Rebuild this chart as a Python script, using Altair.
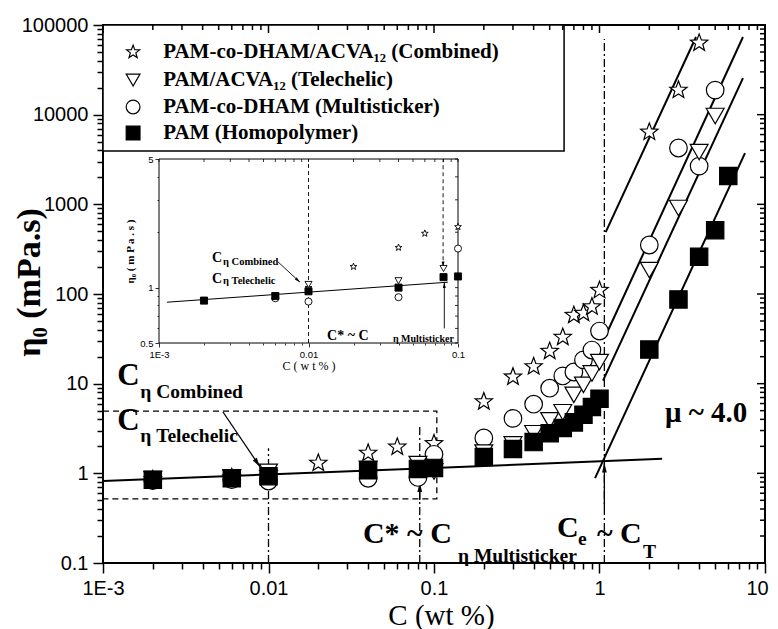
import altair as alt
import pandas as pd

# ---------------- data ----------------
series_names = ["PAM-co-DHAM/ACVA₁₂ (Combined)", "PAM/ACVA₁₂ (Telechelic)",
                "PAM-co-DHAM (Multisticker)", "PAM (Homopolymer)"]

combined_c = [0.002, 0.006, 0.01, 0.02, 0.04, 0.06, 0.1, 0.2, 0.3, 0.4, 0.5, 0.6, 0.7, 0.8, 0.9, 1.0, 2.0, 3.0, 4.0]
combined_eta = [0.85, 0.9, 1.0, 1.3, 1.68, 1.97, 2.15, 6.3, 11.9, 15.5, 23, 33, 58, 61, 72, 110, 6400, 18800, 63000]

telechelic_c = [0.002, 0.006, 0.01, 0.04, 0.08, 0.1, 0.2, 0.3, 0.4, 0.5, 0.6, 0.7, 0.8, 0.9, 1.0, 2.0, 3.0, 4.0, 5.0]
telechelic_eta = [0.86, 0.9, 1.04, 1.12, 1.27, 1.05, 1.7, 2.1, 2.8, 3.9, 4.8, 7.5, 9.7, 13, 17.4, 185, 910, 3830, 9660]

multi_c = [0.002, 0.006, 0.01, 0.04, 0.08, 0.1, 0.2, 0.3, 0.4, 0.5, 0.6, 0.7, 0.8, 0.9, 1.0, 2.0, 3.0, 4.0, 5.0]
multi_eta = [0.83, 0.85, 0.82, 0.88, 0.9, 1.63, 2.48, 4.1, 5.9, 8.9, 12.2, 13.5, 18.4, 23.7, 38.6, 352, 4250, 2670, 18800]

homo_c = [0.002, 0.006, 0.01, 0.04, 0.08, 0.1, 0.2, 0.3, 0.4, 0.5, 0.6, 0.7, 0.8, 0.9, 1.0, 2.0, 3.0, 4.0, 5.0, 6.0]
homo_eta = [0.85, 0.88, 0.93, 1.08, 1.12, 1.15, 1.52, 1.87, 2.23, 2.8, 3.2, 3.7, 4.5, 5.5, 6.8, 24, 87, 260, 515, 2070]

# inset data
in_combined_c = [0.01, 0.02, 0.04, 0.06, 0.1]
in_combined_eta = [1.0, 1.30, 1.65, 1.97, 2.14]
in_telechelic_c = [0.002, 0.006, 0.01, 0.04, 0.08]
in_telechelic_eta = [0.85, 0.9, 1.04, 1.09, 1.27]
in_multi_c = [0.006, 0.01, 0.04, 0.1]
in_multi_eta = [0.875, 0.84, 0.887, 1.63]
in_homo_c = [0.002, 0.006, 0.01, 0.04, 0.08, 0.1]
in_homo_eta = [0.85, 0.90, 0.955, 1.0, 1.14, 1.15]

# fitted lines (endpoints)
fit_x1 = [1.09, 1.11, 1.05, 0.94, 0.001]
fit_y1 = [490, 37, 10.8, 0.885, 0.82]
fit_x2 = [3.83, 7.36, 7.36, 7.57, 2.39]
fit_y2 = [73500, 73450, 25600, 3720, 1.45]

inset_fit = [0.00113, 0.833, 0.0855, 1.07]

# vertical marker lines
vline_x = [0.01, 0.082, 1.07]
vline_y1 = [0.1, 0.1, 0.1]
vline_y2 = [1.9, 3.46, 70000]

# tick labels
x_major = [0.001, 0.01, 0.1, 1, 10]
x_labels = ["1E-3", "0.01", "0.1", "1", "10"]
y_major = [0.1, 1, 10, 100, 1000, 10000, 100000]
y_labels = ["0.1", "1", "10", "100", "1000", "10000", "100000"]
ix_major = [0.001, 0.01, 0.1]
ix_labels = ["1E-3", "0.01", "0.1"]
iy_major = [0.5, 1, 5]
iy_labels = ["0.5", "1", "5"]

# legend placement (in data coordinates of the main panel)
legend_sym_x = 0.00152
legend_lab_x = 0.00231
legend_row_y = [50000, 24300, 12200, 6240]

# ---------------- helpers ----------------
W, H = 662, 538
STAR = ("M0,-1L0.247,-0.34L0.951,-0.309L0.399,0.13L0.588,0.809L0,0.42"
        "L-0.588,0.809L-0.399,0.13L-0.951,-0.309L-0.247,-0.34Z")
ARROW = "M0,0L0.45,1.8L-0.45,1.8Z"


def minors(lo_exp, hi_exp):
    return [k * 10.0 ** e for e in range(lo_exp, hi_exp) for k in range(2, 10)]


def lab_expr(vals, labs):
    s = ""
    for v, l in zip(vals, labs):
        s += f"datum.value == {v!r} ? '{l}' : "
    return s + "''"


def is_major(vals):
    return "indexof([" + ",".join(repr(v) for v in vals) + "], datum.value) >= 0"


x_ticks = x_major + minors(-3, 1)
y_ticks = y_major + minors(-1, 5)
ix_ticks = ix_major + minors(-3, -1)
iy_ticks = [0.5, 0.6, 0.7, 0.8, 0.9, 1, 2, 3, 4, 5]

xs = alt.Scale(type="log", domain=[0.001, 10])
ys = alt.Scale(type="log", domain=[0.1, 100000])
ixs = alt.Scale(type="log", domain=[0.001, 0.1], range=[56, 355])
iys = alt.Scale(type="log", domain=[0.5, 5], range=[318, 134])

x_axis = alt.Axis(values=x_ticks, labelExpr=lab_expr(x_major, x_labels),
                  tickSize={"condition": {"test": is_major(x_major), "value": 10}, "value": 6},
                  labelOffset={"condition": {"test": "datum.value == 10", "value": -8}, "value": 0},
                  tickWidth=1.5, tickColor="black", domain=False, grid=False,
                  labelFont="Liberation Sans", labelFontSize=20, labelColor="black",
                  labelPadding=5, labelOverlap=False, labelFlush=False,
                  title="C (wt %)", titleFont="Liberation Serif", titleFontSize=29,
                  titleFontWeight="normal", titleColor="black", titleX=338, titleY=61,
                  titleAlign="center", titleBaseline="alphabetic")
y_axis = alt.Axis(values=y_ticks, labelExpr=lab_expr(y_major, y_labels),
                  tickSize={"condition": {"test": is_major(y_major), "value": 10}, "value": 6},
                  tickWidth=1.5, tickColor="black", domain=False, grid=False,
                  labelFont="Liberation Sans", labelFontSize=20, labelColor="black",
                  labelPadding=5, labelOverlap=False, labelFlush=False,
                  title="η₀ (mPa.s)", titleFont="Liberation Serif", titleFontSize=34,
                  titleFontWeight="bold", titleColor="black", titleX=-74, titleY=H / 2 - 12,
                  titleAngle=270, titleAlign="center", titleBaseline="middle")
ix_axis = alt.Axis(orient="bottom", offset=-(H - 318), values=ix_ticks,
                   labelExpr=lab_expr(ix_major, ix_labels),
                   tickSize={"condition": {"test": is_major(ix_major), "value": 4}, "value": 2},
                   tickWidth=0.8, tickColor="black", domain=False, grid=False,
                   labelFont="Liberation Sans", labelFontSize=9.5, labelColor="black",
                   labelPadding=2, labelOverlap=False, labelFlush=False,
                   title="C  ( w t  % )", titleFont="Liberation Serif", titleFontSize=12,
                   titleFontWeight="normal", titleColor="black", titlePadding=2)
iy_axis = alt.Axis(orient="left", offset=-56, values=iy_ticks,
                   labelExpr=lab_expr(iy_major, iy_labels),
                   tickSize={"condition": {"test": is_major(iy_major), "value": 4}, "value": 2},
                   tickWidth=0.8, tickColor="black", domain=False, grid=False,
                   labelFont="Liberation Sans", labelFontSize=9.5, labelColor="black",
                   labelPadding=2, labelOverlap=False, labelFlush=False,
                   title="η₀  ( m P a . s )", titleFont="Liberation Serif", titleFontSize=11,
                   titleFontWeight="bold", titleColor="black", titlePadding=4)

shape_scale = alt.Scale(domain=series_names, range=[STAR, "triangle-down", "circle", "square"])
fill_scale = alt.Scale(domain=series_names, range=["white", "white", "white", "black"])
size_scale = alt.Scale(domain=series_names, range=[330, 300, 260, 215])


def X(f="x"):
    return alt.X(f"{f}:Q", scale=xs, axis=x_axis)


def Y(f="y"):
    return alt.Y(f"{f}:Q", scale=ys, axis=y_axis)


def IX(f="x"):
    return alt.X(f"{f}:Q", scale=ixs, axis=ix_axis)


def IY(f="y"):
    return alt.Y(f"{f}:Q", scale=iys, axis=iy_axis)


# ---------------- data frames ----------------
def pts(cs, es, name):
    return [{"x": c, "y": e, "s": name} for c, e in zip(cs, es)]


main_pts = pd.DataFrame(pts(combined_c, combined_eta, series_names[0]) +
                        pts(multi_c, multi_eta, series_names[2]) +
                        pts(telechelic_c, telechelic_eta, series_names[1]) +
                        pts(homo_c, homo_eta, series_names[3]))
inset_pts = pd.DataFrame(pts(in_combined_c, in_combined_eta, series_names[0]) +
                         pts(in_multi_c, in_multi_eta, series_names[2]) +
                         pts(in_telechelic_c, in_telechelic_eta, series_names[1]) +
                         pts(in_homo_c, in_homo_eta, series_names[3]))
legend_df = pd.DataFrame({"s": series_names, "y": legend_row_y,
                          "xs": [legend_sym_x] * 4, "xl": [legend_lab_x] * 4})

fits = pd.DataFrame({"x": fit_x1, "y": fit_y1, "x2": fit_x2, "y2": fit_y2})
vlines = pd.DataFrame({"x": vline_x, "y": vline_y1, "y2": vline_y2})
dash_box = pd.DataFrame([{"x": 0.001, "x2": 0.104, "y": 0.52, "y2": 4.95}])
legend_box = pd.DataFrame([{"x": 0.001, "x2": 0.611, "y": 3940, "y2": 100000}])

arrows = pd.DataFrame([
    {"x": 0.00531, "y": 4.83, "x2": 0.00889, "y2": 1.18, "a": 146},
    {"x": 0.082, "y": 0.505, "x2": 0.082, "y2": 0.79, "a": 0},
    {"x": 1.07, "y": 0.42, "x2": 1.07, "y2": 1.30, "a": 0},
])

ann_main = [
    ("C", 0.00122, 9.66, 31),
    ("η Combined", 0.00168, 6.92, 19.5),
    ("C", 0.00122, 3.04, 31),
    ("η Telechelic", 0.00168, 2.23, 19.5),
    ("C* ~ C", 0.0372, 0.167, 30),
    ("η Multisticker", 0.1396, 0.1026, 19.5),
    ("C", 0.553, 0.195, 30),
    ("e", 0.741, 0.159, 19.5),
    ("~ C", 0.966, 0.167, 30),
    ("T", 1.83, 0.1137, 19.5),
    ("μ ~ 4.0", 2.49, 3.73, 29),
]

inset_frame = pd.DataFrame([{"x": 0.001, "x2": 0.1, "y": 0.5, "y2": 5}])
inset_line = pd.DataFrame([{"x": inset_fit[0], "y": inset_fit[1], "x2": inset_fit[2], "y2": inset_fit[3]}])
inset_dash = pd.DataFrame([{"x": 0.01, "y": 0.5, "y2": 5}, {"x": 0.0795, "y": 1.29, "y2": 5}])
inset_arrows = pd.DataFrame([
    {"x": 0.00625, "y": 1.38, "x2": 0.00877, "y2": 1.07, "a": 132},
    {"x": 0.081, "y": 0.60, "x2": 0.081, "y2": 1.07, "a": 0},
])
inset_heads = pd.DataFrame([
    {"x": 0.00877, "y": 1.07, "a": 132},
    {"x": 0.081, "y": 1.07, "a": 0},
    {"x": 0.0795, "y": 1.29, "a": 180},
])
ann_inset = [
    ("C", 0.00226, 1.377, 14),
    ("η Combined", 0.00268, 1.33, 10.5),
    ("C", 0.00226, 1.06, 14),
    ("η Telechelic", 0.00268, 1.045, 10.5),
    ("C*  ~  C", 0.0133, 0.519, 14),
    ("η Multisticker", 0.0367, 0.506, 10),
]


def text_layers(ann, xf, yf):
    out = []
    for fs in sorted(set(a[3] for a in ann)):
        df = pd.DataFrame([{"t": a[0], "x": a[1], "y": a[2]} for a in ann if a[3] == fs])
        out.append(alt.Chart(df).mark_text(align="left", baseline="alphabetic",
                                           font="Liberation Serif", fontWeight="bold",
                                           fontSize=fs, color="black")
                   .encode(x=xf(), y=yf(), text="t:N"))
    return out


# ---------------- main layers ----------------
main_layers = [
    alt.Chart(legend_box).mark_rect(fill="white", stroke="black", strokeWidth=1.5)
    .encode(x=X(), x2="x2", y=Y(), y2="y2"),
    alt.Chart(legend_df).mark_point(filled=True, stroke="black", strokeWidth=1.2, opacity=1, size=190)
    .encode(x=X("xs"), y=Y(),
            shape=alt.Shape("s:N", scale=shape_scale, legend=None),
            fill=alt.Fill("s:N", scale=fill_scale, legend=None)),
    alt.Chart(legend_df).mark_text(align="left", baseline="middle", font="Liberation Serif",
                                   fontWeight="bold", fontSize=21, color="black")
    .encode(x=X("xl"), y=Y(), text="s:N"),
    alt.Chart(dash_box).mark_rect(fillOpacity=0, stroke="black", strokeWidth=1.3, strokeDash=[6, 4])
    .encode(x=X(), x2="x2", y=Y(), y2="y2"),
    alt.Chart(vlines).mark_rule(color="black", strokeWidth=1.3, strokeDash=[8, 3, 2, 3])
    .encode(x=X(), y=Y(), y2="y2"),
    alt.Chart(fits).mark_rule(color="black", strokeWidth=2)
    .encode(x=X(), y=Y(), x2="x2", y2="y2"),
    alt.Chart(arrows).mark_rule(color="black", strokeWidth=1.3)
    .encode(x=X(), y=Y(), x2="x2", y2="y2"),
    alt.Chart(arrows).mark_point(shape=ARROW, size=110, filled=True, color="black", opacity=1)
    .encode(x=X("x2"), y=Y("y2"), angle=alt.Angle("a:Q", scale=None)),
    alt.Chart(main_pts).mark_point(filled=True, stroke="black", strokeWidth=1.2, opacity=1)
    .encode(x=X(), y=Y(),
            shape=alt.Shape("s:N", scale=shape_scale, legend=None),
            fill=alt.Fill("s:N", scale=fill_scale, legend=None),
            size=alt.Size("s:N", scale=size_scale, legend=None)),
    # inward ticks on top and right
    alt.Chart(pd.DataFrame({"x": x_major})).mark_rule(color="black", strokeWidth=1.5)
    .encode(x=X(), y=alt.value(0), y2=alt.value(8)),
    alt.Chart(pd.DataFrame({"x": minors(-3, 1)})).mark_rule(color="black", strokeWidth=1.5)
    .encode(x=X(), y=alt.value(0), y2=alt.value(5)),
    alt.Chart(pd.DataFrame({"y": y_major})).mark_rule(color="black", strokeWidth=1.5)
    .encode(y=Y(), x=alt.value(W), x2=alt.value(W - 8)),
    alt.Chart(pd.DataFrame({"y": minors(-1, 5)})).mark_rule(color="black", strokeWidth=1.5)
    .encode(y=Y(), x=alt.value(W), x2=alt.value(W - 5)),
] + text_layers(ann_main, X, Y)

# ---------------- inset layers ----------------
inset_layers = [
    alt.Chart(inset_frame).mark_rect(fill="white", stroke="black", strokeWidth=1)
    .encode(x=IX(), x2="x2", y=IY(), y2="y2"),
    alt.Chart(inset_dash).mark_rule(color="black", strokeWidth=0.9, strokeDash=[4, 3])
    .encode(x=IX(), y=IY(), y2="y2"),
    alt.Chart(inset_line).mark_rule(color="black", strokeWidth=1)
    .encode(x=IX(), y=IY(), x2="x2", y2="y2"),
    alt.Chart(inset_arrows).mark_rule(color="black", strokeWidth=0.9)
    .encode(x=IX(), y=IY(), x2="x2", y2="y2"),
    alt.Chart(inset_heads).mark_point(shape=ARROW, size=40, filled=True, color="black", opacity=1)
    .encode(x=IX(), y=IY(), angle=alt.Angle("a:Q", scale=None)),
    alt.Chart(inset_pts).mark_point(filled=True, stroke="black", strokeWidth=0.9, opacity=1, size=50)
    .encode(x=IX(), y=IY(),
            shape=alt.Shape("s:N", scale=shape_scale, legend=None),
            fill=alt.Fill("s:N", scale=fill_scale, legend=None)),
    alt.Chart(pd.DataFrame({"x": ix_major + minors(-3, -1)})).mark_rule(color="black", strokeWidth=0.8)
    .encode(x=IX(), y=alt.value(134), y2=alt.value(137)),
    alt.Chart(pd.DataFrame({"y": iy_ticks})).mark_rule(color="black", strokeWidth=0.8)
    .encode(y=IY(), x=alt.value(355), x2=alt.value(352)),
] + text_layers(ann_inset, IX, IY)

main = alt.layer(*main_layers)
inset = alt.layer(*inset_layers)

chart = (alt.layer(main, inset)
         .resolve_scale(x="independent", y="independent")
         .properties(width=W, height=H,
                     autosize=alt.AutoSizeParams(type="none"),
                     padding={"left": 95, "top": 17, "right": 5, "bottom": 66},
                     background="white")
         .configure_view(stroke="black", strokeWidth=2))

chart.save("out.html", embed_options={"renderer": "svg", "actions": False})
